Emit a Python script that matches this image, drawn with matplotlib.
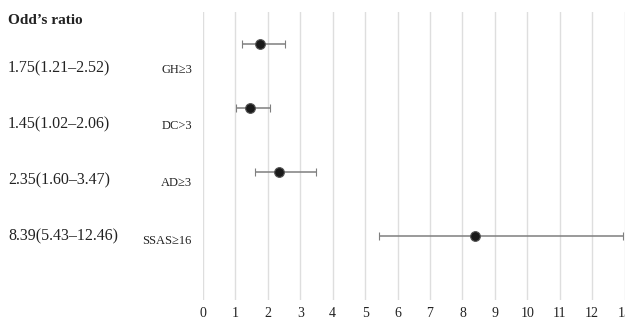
import matplotlib
matplotlib.use("Agg")
import matplotlib.pyplot as plt

# ── Dados ─────────────────────────────────────────────────────────────────────

labels   = ["GH≥3", "DC>3", "AD≥3", "SSAS≥16"]
or_text  = ["1.75(1.21–2.52)", "1.45(1.02–2.06)", "2.35(1.60–3.47)", "8.39(5.43–12.46)"]
odds     = [1.75, 1.45, 2.35, 8.39]
ci_low   = [1.21, 1.02, 1.60, 5.43]
ci_high  = [2.52, 2.06, 3.47, 12.95]   # barra desenhada até a borda no original
xticks   = list(range(0, 14))

# ── Estilo ────────────────────────────────────────────────────────────────────

SERIF    = ["Liberation Serif", "DejaVu Serif"]
GRID_COL = "#dedede"
BAR_COL  = "#7f7f7f"
TXT_COL  = "#222222"

plt.rcParams["font.family"] = SERIF

W, H = 625, 320
fig = plt.figure(figsize=(W / 100, H / 100), dpi=100)

# eixo: x=0 em 203px, x=13 em ~624.6px; grade de y=12px a y=300px
ax = fig.add_axes([203 / W, 1 - 300 / H, (624.6 - 203) / W, (300 - 12) / H])
ax.set_xlim(0, 13)
ax.set_ylim(4.5, 0)

ypos = [i + 0.5 for i in range(len(odds))]
xerr = [[o - l for o, l in zip(odds, ci_low)],
        [h - o for o, h in zip(odds, ci_high)]]

ax.errorbar(odds, ypos, xerr=xerr, fmt="o", color=BAR_COL, ecolor=BAR_COL,
            elinewidth=1.1, capsize=3, capthick=1.1,
            markersize=7, markerfacecolor="#1a1a1a", markeredgecolor="#555555",
            markeredgewidth=0.8, zorder=3)

ax.set_xticks(xticks)
ax.set_yticks([])
ax.grid(axis="x", color=GRID_COL, linewidth=1.0)
ax.set_axisbelow(True)
for s in ax.spines.values():
    s.set_visible(False)
ax.tick_params(axis="x", length=0, pad=5, labelsize=10, labelcolor=TXT_COL)
for lab in ax.get_xticklabels():
    lab.set_clip_on(False)

# ── Textos à esquerda ─────────────────────────────────────────────────────────

def fy(px):
    return 1 - px / H

fig.text(8 / W, fy(20), "Odd’s ratio", fontsize=11, fontweight="bold",
         va="center", ha="left", color=TXT_COL)

txt_y = [68, 124, 180, 236]
lab_y = [70, 126, 183, 241]
for t, l, ty, ly in zip(or_text, labels, txt_y, lab_y):
    fig.text(8 / W, fy(ty), t, fontsize=11.5, va="center", ha="left", color=TXT_COL)
    fig.text(192 / W, fy(ly), l, fontsize=9, va="center", ha="right", color=TXT_COL)

fig.savefig("out.png", dpi=100, facecolor="white")
